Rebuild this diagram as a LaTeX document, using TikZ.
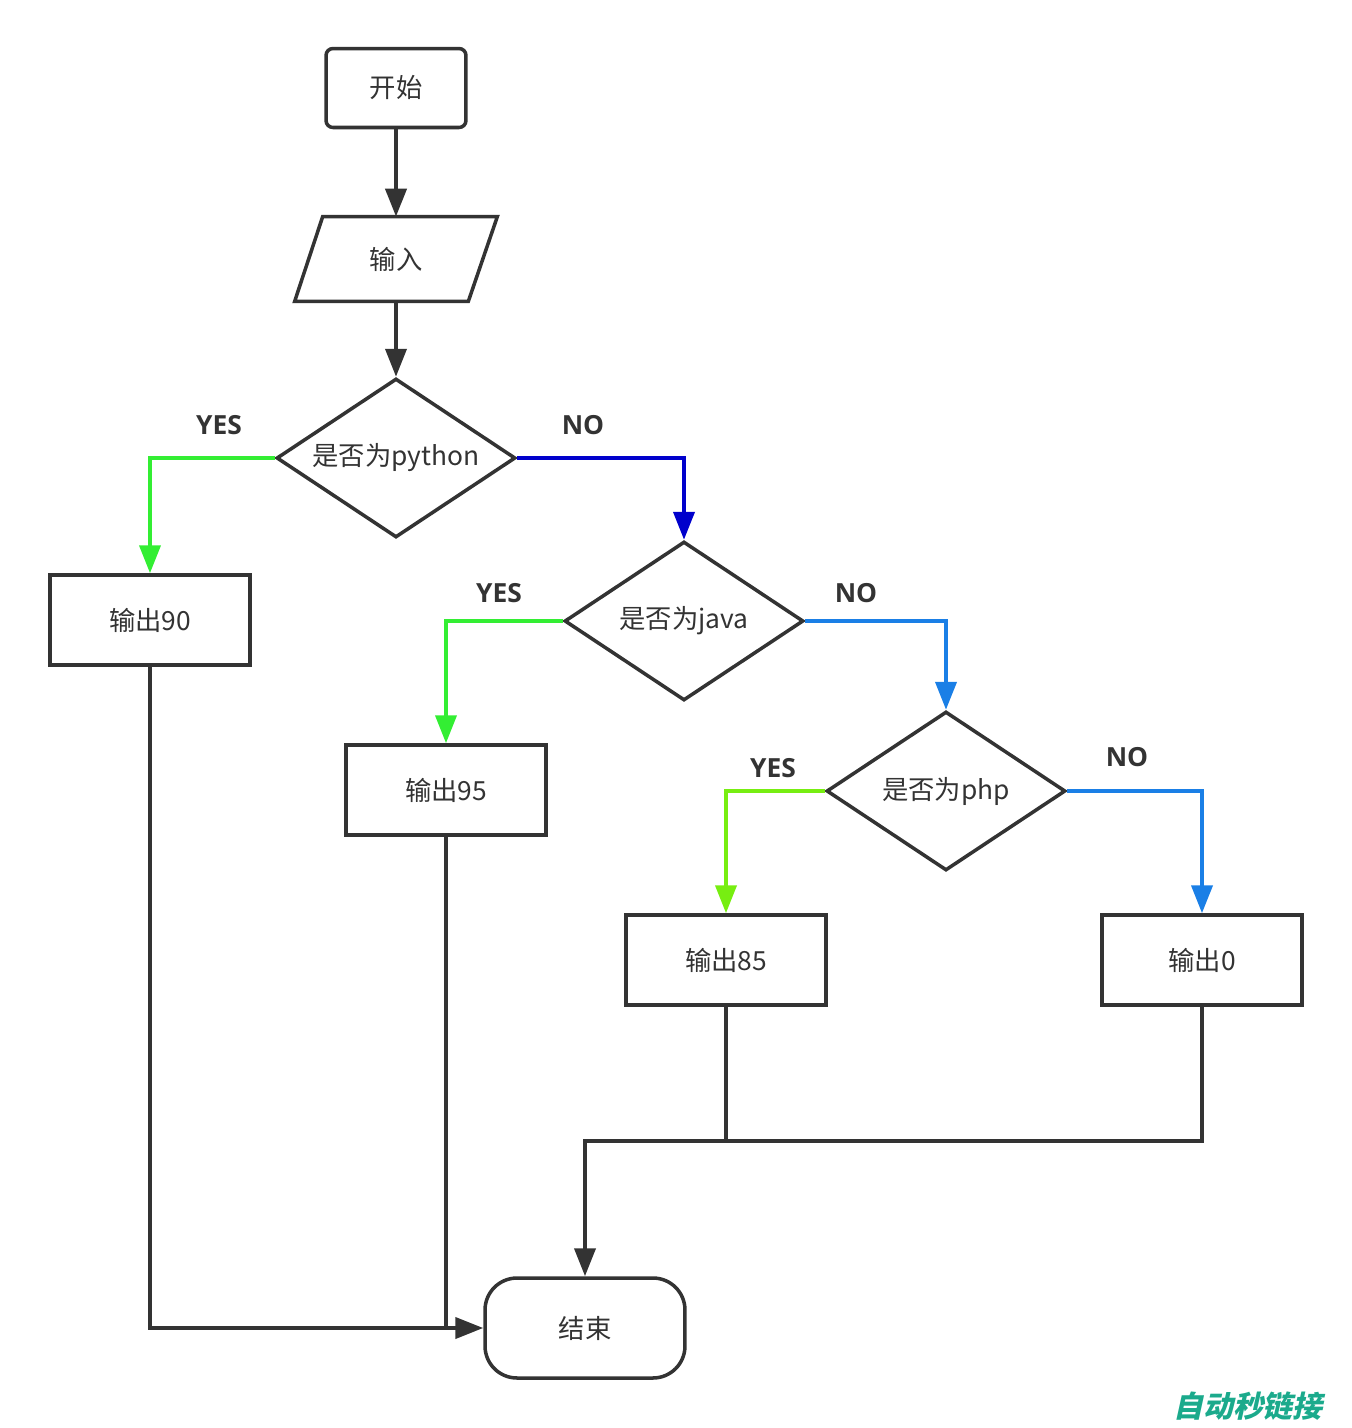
\documentclass[tikz,border=0pt]{standalone}
\usepackage{fontspec}
\setmainfont{Noto Sans CJK SC}
\newfontfamily\labfont{Open Sans}
\newfontfamily\wmfont{Noto Sans CJK SC}[FakeSlant=0.22]
\usetikzlibrary{shapes.geometric,arrows.meta,calc}
\definecolor{ink}{HTML}{333333}
\definecolor{gA}{HTML}{33EE33}
\definecolor{gB}{HTML}{77EE11}
\definecolor{bA}{HTML}{0000CC}
\definecolor{bB}{HTML}{1A7FE6}
\definecolor{wmc}{HTML}{1BAA8C}
\begin{document}
\begin{tikzpicture}[x=0.02cm,y=-0.02cm,
  base/.style={draw=ink, line width=2pt, text=ink, font=\fontsize{15}{18}\selectfont, inner sep=0pt},
  startbox/.style={base, rectangle, rounded corners=0.14cm, minimum width=2.8cm, minimum height=1.58cm},
  procbox/.style={base, rectangle, minimum width=4cm, minimum height=1.8cm},
  decide/.style={base, diamond, aspect=1.5, minimum width=4.78cm, minimum height=3.18cm},
  iobox/.style={rectangle, inner sep=0pt, text=ink, font=\fontsize{15}{18}\selectfont, minimum width=4.04cm, minimum height=1.68cm},
  endbox/.style={base, rectangle, rounded corners=0.64cm, minimum width=4cm, minimum height=2cm},
  flow/.style={line width=2.3pt, draw=ink, -{Triangle[length=0.56cm,width=0.42cm]}},
  link/.style={line width=2.3pt, draw=ink},
  yn/.style={font=\labfont\bfseries\fontsize{15}{18}\selectfont, text=ink}
]
\useasboundingbox (0,0) rectangle (1352,1428);

\node[startbox] (start) at (396,88) {开始};
\node[iobox] (in) at (396,259) {输入};
\draw[ink, line width=2pt, line join=miter]
  ($(in.north west)+(28,0)$) -- (in.north east) -- ($(in.south east)+(-29,0)$) -- (in.south west) -- cycle;
\node[decide] (py) at (396,458) {是否为python};
\node[procbox] (o90) at (150,620) {输出90};
\node[decide] (jv) at (684,621) {是否为java};
\node[procbox] (o95) at (446,790) {输出95};
\node[decide] (ph) at (946,791) {是否为php};
\node[procbox] (o85) at (726,960) {输出85};
\node[procbox] (o0) at (1202,960) {输出0};
\node[endbox] (end) at (585,1328) {结束};
\coordinate (j) at (726,1141);

\node[yn] (y1) at (219,425) {YES};
\node[yn] (n1) at (583,425) {NO};
\node[yn] (y2) at (499,593) {YES};
\node[yn] (n2) at (856,593) {NO};
\node[yn] (y3) at (773,768) {YES};
\node[yn] (n3) at (1127,757) {NO};

\draw[flow] (start.south) -- (in.north);
\draw[flow] (in.south) -- (py.north);
\draw[flow, draw=gA] (py.west) -| (o90.north);
\draw[flow, draw=bA] (py.east) -| (jv.north);
\draw[flow, draw=gA] (jv.west) -| (o95.north);
\draw[flow, draw=bB] (jv.east) -| (ph.north);
\draw[flow, draw=gB] (ph.west) -| (o85.north);
\draw[flow, draw=bB] (ph.east) -| (o0.north);

\draw[flow] (o90.south) |- (end.west);
\draw[link] (o95.south) -- (o95.south |- end.west);
\draw[link] (o85.south) -- (j);
\draw[flow] (o0.south) |- (end.north |- j) -- (end.north);

\node[text=wmc, font=\wmfont\bfseries\fontsize{17}{20}\selectfont] (wm) at (1248,1406) {自动秒链接};
\end{tikzpicture}
\end{document}
